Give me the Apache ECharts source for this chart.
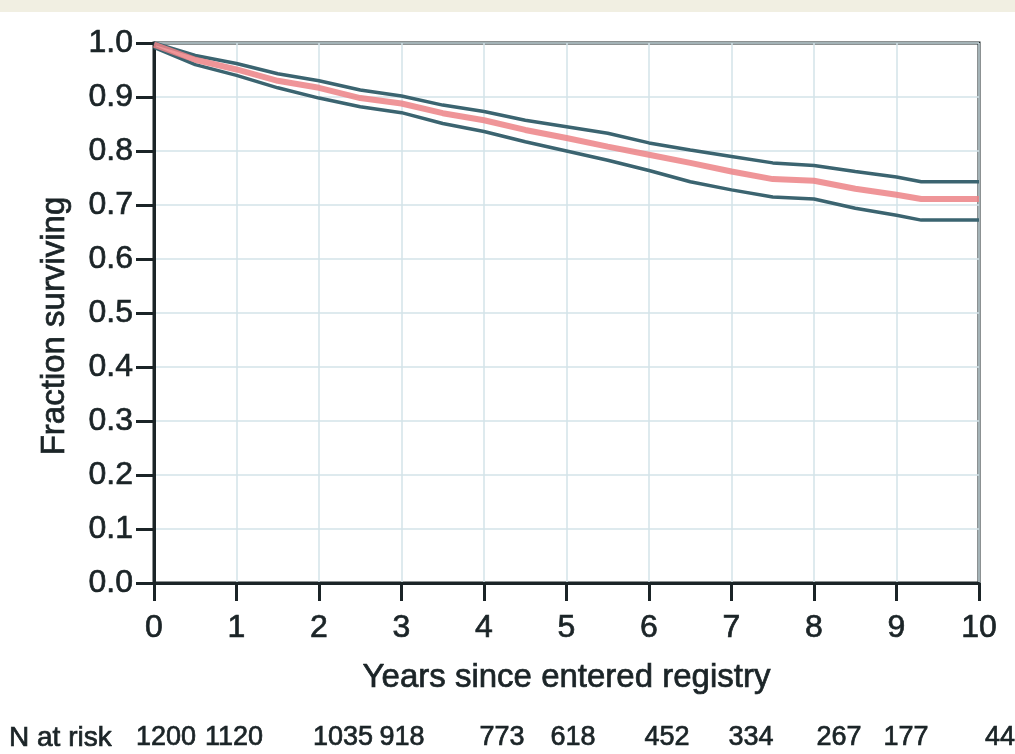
<!DOCTYPE html>
<html>
<head>
<meta charset="utf-8">
<script src="https://cdn.jsdelivr.net/npm/echarts@6/dist/echarts.min.js"></script>
<style>
  html, body { margin: 0; padding: 0; background: #ffffff; }
  #chart { width: 1015px; height: 754px; }
</style>
</head>
<body>
<div id="chart"></div>
<script>
// survival curve with 95% bounds
var years = [0, 0.5, 1, 1.5, 2, 2.5, 3, 3.5, 4, 4.5, 5, 5.5, 6, 6.5, 7, 7.5, 8, 8.5, 9, 9.3, 10];
var survival = [0.997, 0.969, 0.951, 0.930, 0.917, 0.898, 0.888, 0.870, 0.857, 0.839, 0.824, 0.808, 0.793, 0.778, 0.762, 0.748, 0.745, 0.730, 0.719, 0.711, 0.711];
var upper = [1.0, 0.977, 0.962, 0.943, 0.930, 0.913, 0.902, 0.885, 0.873, 0.857, 0.845, 0.833, 0.815, 0.802, 0.790, 0.778, 0.773, 0.762, 0.752, 0.743, 0.743];
var lower = [0.992, 0.960, 0.940, 0.917, 0.898, 0.882, 0.871, 0.851, 0.836, 0.817, 0.800, 0.783, 0.764, 0.743, 0.728, 0.715, 0.711, 0.694, 0.681, 0.672, 0.672];

var riskLabel = 'N at risk';
var nAtRisk = ['1200', '1120', '1035', '918', '773', '618', '452', '334', '267', '177', '44'];
var riskX = [166, 234, 343, 402, 502, 573, 667, 751, 839, 906, 1000];

function pairs(ys) {
    var out = [];
    for (var i = 0; i < years.length; i++) {
        out.push([years[i], ys[i]]);
    }
    return out;
}

var font = 'Liberation Sans, Arial, sans-serif';
var ink = '#1b2427';
var heavy = 0.7; // thin stroke so the text looks as heavy as the scanned figure

var graphics = [
    { type: 'rect', left: 0, top: 0, shape: { width: 1015, height: 12 }, style: { fill: '#f1efe2' } },
    { type: 'text', x: 55, y: 326, rotation: Math.PI / 2,
      style: { text: 'Fraction surviving', font: '33px ' + font, fill: ink, stroke: ink, lineWidth: heavy,
               align: 'center', verticalAlign: 'middle' } },
    { type: 'text', x: 9, y: 738,
      style: { text: riskLabel, font: '28px ' + font, fill: ink, stroke: ink, lineWidth: heavy, verticalAlign: 'middle' } }
];
for (var i = 0; i < nAtRisk.length; i++) {
    graphics.push({
        type: 'text', x: riskX[i], y: 738,
        style: { text: nAtRisk[i], font: '27px ' + font, fill: ink, stroke: ink, lineWidth: heavy,
                 align: 'center', verticalAlign: 'middle' }
    });
}

var option = {
    animation: false,
    backgroundColor: '#ffffff',
    grid: { left: 154, right: 36, top: 43, bottom: 171, show: true, borderColor: ink, borderWidth: 3 },
    xAxis: {
        type: 'value', min: 0, max: 10, interval: 1,
        name: 'Years since entered registry', nameLocation: 'middle', nameGap: 78,
        nameTextStyle: { fontSize: 33, fontFamily: font, color: ink, textBorderColor: ink, textBorderWidth: heavy },
        axisLine: { lineStyle: { color: ink, width: 3 } },
        axisTick: { length: 18, lineStyle: { color: ink, width: 3 } },
        axisLabel: { fontSize: 32, fontFamily: font, color: ink, margin: 29, textBorderColor: ink, textBorderWidth: heavy },
        splitLine: { show: true, lineStyle: { color: '#d3e3e9', width: 1.5 } }
    },
    yAxis: {
        type: 'value', min: 0, max: 1, interval: 0.1,
        axisLine: { lineStyle: { color: ink, width: 3 } },
        axisTick: { length: 18, lineStyle: { color: ink, width: 3 } },
        axisLabel: { fontSize: 32, fontFamily: font, color: ink, margin: 21, textBorderColor: ink, textBorderWidth: heavy,
            formatter: function (v) { return v.toFixed(1); } },
        splitLine: { show: true, lineStyle: { color: '#d3e3e9', width: 1.5 } }
    },
    graphic: graphics,
    series: [
        { name: 'upper', type: 'line', data: pairs(upper), showSymbol: false,
          lineStyle: { color: '#3b6470', width: 3.5 } },
        { name: 'lower', type: 'line', data: pairs(lower), showSymbol: false,
          lineStyle: { color: '#3b6470', width: 3.5 } },
        { name: 'survival', type: 'line', data: pairs(survival), showSymbol: false,
          lineStyle: { color: '#ec8286', width: 6, opacity: 0.85 } }
    ]
};

var myChart = echarts.init(document.getElementById('chart'));
myChart.setOption(option, true);
</script>
</body>
</html>
